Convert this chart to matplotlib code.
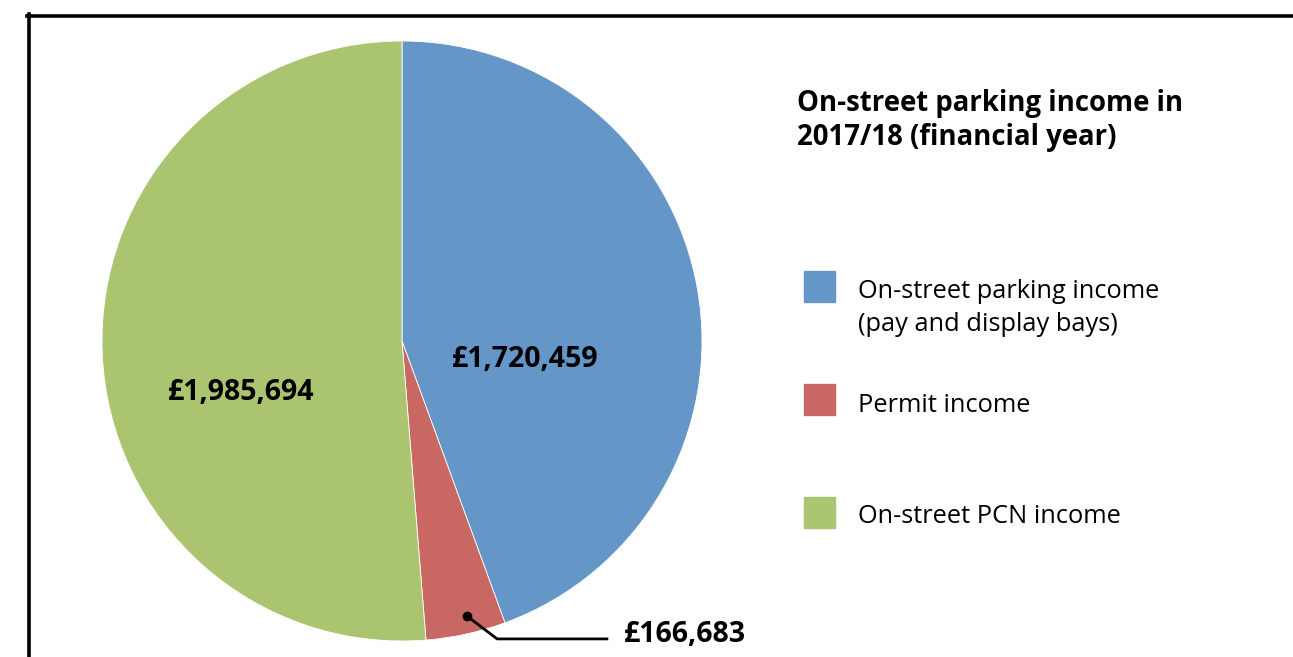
import matplotlib
matplotlib.use("Agg")
import matplotlib.pyplot as plt
from matplotlib.patches import Rectangle
from matplotlib.lines import Line2D

categories = ["On-street parking income\n(pay and display bays)", "Permit income", "On-street PCN income"]
values = [1720459, 166683, 1985694]
colors = ["#6497C8", "#C96762", "#ABC46F"]
title = "On-street parking income in\n2017/18 (financial year)"

W, H = 1293, 657
fig = plt.figure(figsize=(W / 100, H / 100), dpi=100)
fig.patch.set_facecolor("white")
plt.rcParams['font.family'] = ['Open Sans', 'DejaVu Sans']

def fx(px):
    return px / W

def fy(py):
    return 1 - py / H

# frame (top and left edges visible)
fig.add_artist(Line2D([fx(28.5), fx(28.5)], [0, fy(14)], color="black", lw=2.6, transform=fig.transFigure))
fig.add_artist(Line2D([fx(27.2), 1], [fy(15.5), fy(15.5)], color="black", lw=2.6, transform=fig.transFigure))

cx, cy, r = 402, 341, 300
ax = fig.add_axes([(cx - r) / W, (H - cy - r) / H, 2 * r / W, 2 * r / H])
ax.pie(values, colors=colors, startangle=90, counterclock=False, radius=1,
       wedgeprops=dict(linewidth=0.6, edgecolor="white"))
ax.set_xlim(-1, 1)
ax.set_ylim(-1, 1)
ax.set_aspect("equal")
ax.axis("off")

def money(v):
    return f"£{v:,}"

lab_fs = 20.5
fig.text(fx(525), fy(367), money(values[0]), ha="center", va="baseline", fontsize=lab_fs, fontweight="bold")
fig.text(fx(241), fy(400), money(values[2]), ha="center", va="baseline", fontsize=lab_fs, fontweight="bold")
fig.text(fx(624), fy(642), money(values[1]), ha="left", va="baseline", fontsize=lab_fs, fontweight="bold")
ax.plot([0.217, 0.317, 0.683], [-0.917, -0.993, -0.993], color="black", lw=2, clip_on=False)
ax.plot([0.217], [-0.917], "o", color="black", ms=6, clip_on=False)

for i, line in enumerate(title.split("\n")):
    fig.text(fx(797), fy(111 + 34 * i), line, ha="left", va="baseline", fontsize=19.8, fontweight="bold")

sq_y = [271, 384, 497]
base_y = [298, 412, 523]
for lab, col, y, b in zip(categories, colors, sq_y, base_y):
    fig.add_artist(Rectangle((fx(804), fy(y + 31)), 31 / W, 31 / H, color=col,
                             transform=fig.transFigure))
    for i, line in enumerate(lab.split("\n")):
        fig.text(fx(858), fy(b + 33 * i), line, ha="left", va="baseline", fontsize=18.3)

fig.savefig("out.png", dpi=100)
